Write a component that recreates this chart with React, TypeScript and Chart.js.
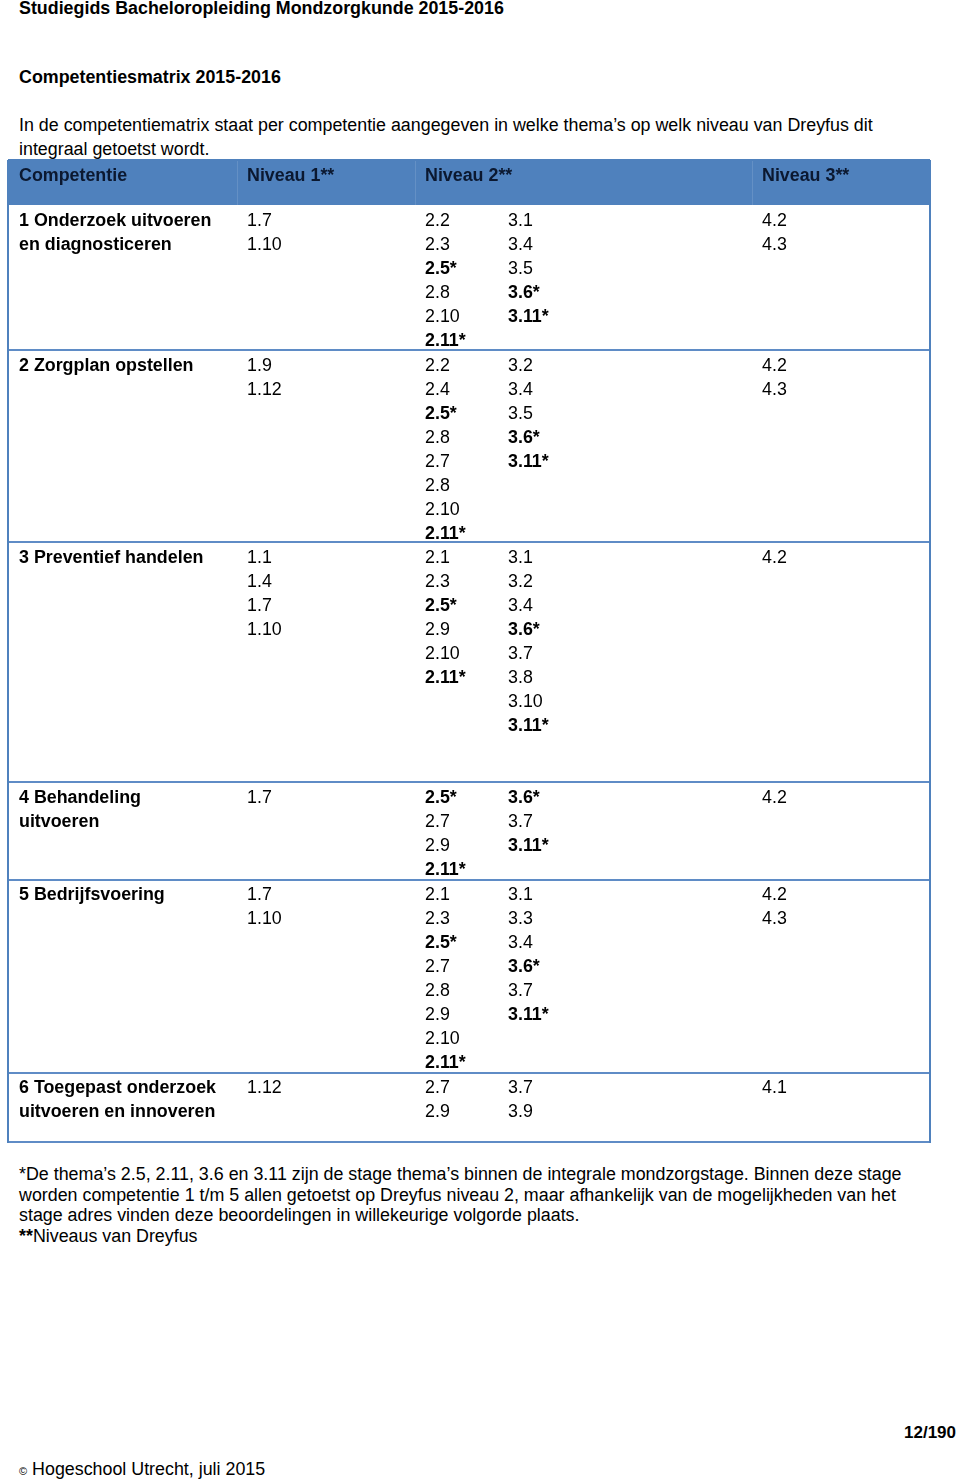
import React, { useEffect, useRef } from "react";
import { Chart, registerables } from "chart.js";

Chart.register(...registerables);

// ---------- DATA ----------
const headers = ["Competentie", "Niveau 1**", "Niveau 2**", "Niveau 3**"];

const competencies = [
  ["1 Onderzoek uitvoeren", "en diagnosticeren"],
  ["2 Zorgplan opstellen"],
  ["3 Preventief handelen"],
  ["4 Behandeling", "uitvoeren"],
  ["5 Bedrijfsvoering"],
  ["6 Toegepast onderzoek", "uitvoeren en innoveren"],
];

const niveau1 = [
  ["1.7", "1.10"],
  ["1.9", "1.12"],
  ["1.1", "1.4", "1.7", "1.10"],
  ["1.7"],
  ["1.7", "1.10"],
  ["1.12"],
];

const niveau2Themes2 = [
  ["2.2", "2.3", "2.5*", "2.8", "2.10", "2.11*"],
  ["2.2", "2.4", "2.5*", "2.8", "2.7", "2.8", "2.10", "2.11*"],
  ["2.1", "2.3", "2.5*", "2.9", "2.10", "2.11*"],
  ["2.5*", "2.7", "2.9", "2.11*"],
  ["2.1", "2.3", "2.5*", "2.7", "2.8", "2.9", "2.10", "2.11*"],
  ["2.7", "2.9"],
];

const niveau2Themes3 = [
  ["3.1", "3.4", "3.5", "3.6*", "3.11*"],
  ["3.2", "3.4", "3.5", "3.6*", "3.11*"],
  ["3.1", "3.2", "3.4", "3.6*", "3.7", "3.8", "3.10", "3.11*"],
  ["3.6*", "3.7", "3.11*"],
  ["3.1", "3.3", "3.4", "3.6*", "3.7", "3.11*"],
  ["3.7", "3.9"],
];

const niveau3 = [
  ["4.2", "4.3"],
  ["4.2", "4.3"],
  ["4.2"],
  ["4.2"],
  ["4.2", "4.3"],
  ["4.1"],
];

// row heights, in text lines
const rowLineSlots = [6.04, 8, 10, 4.08, 8.04, 2.88];

// ---------- LAYOUT / STYLE ----------
const FONT = '"Liberation Sans", Arial, Helvetica, sans-serif';
const FS = 17.85;
const BLUE = "#4f81bd";
const LINE_BLUE = "#5f8cc6";
const HEADER_TEXT = "#0b1830";

const CANVAS_TOP = 150;
const CANVAS_H = 1000;
const PAGE_W = 960;
const LINE_PX = 24;
const BODY_TOP = 205;
const HEADER_TOP = 160;
const HEADER_TEXT_Y = 175;
const TABLE_LEFT = 8;
const TABLE_RIGHT = 930;
const COL_X = [19, 247, 425, 508, 762];
const HEADER_X = [19, 247, 425, 762];
const FIRST_LINE_OFFSET = [0.625, 0.625, 0.625, 0.625, 0.583, 0.583];

const Y_MIN = -(BODY_TOP - CANVAS_TOP) / LINE_PX;
const Y_MAX = Y_MIN + CANVAS_H / LINE_PX;

function rowStarts(): number[] {
  const starts: number[] = [];
  let acc = 0;
  for (const s of rowLineSlots) {
    starts.push(acc);
    acc += s;
  }
  starts.push(acc);
  return starts;
}

function buildColumn(colData: string[][], c: number, boldAll: boolean) {
  const starts = rowStarts();
  const pts: any[] = [];
  colData.forEach((lines, r) => {
    lines.forEach((t, i) => {
      pts.push({
        x: COL_X[c],
        y: starts[r] + FIRST_LINE_OFFSET[r] + i,
        t,
        b: boldAll || t.includes("*"),
      });
    });
  });
  return pts;
}

const tablePlugin = {
  id: "tableDraw",
  beforeDatasetsDraw(chart: any) {
    const { ctx, scales } = chart;
    const xs = scales.x;
    const ys = scales.y;
    const l = xs.getPixelForValue(TABLE_LEFT);
    const r = xs.getPixelForValue(TABLE_RIGHT);
    const hTop = ys.getPixelForValue(-(BODY_TOP - HEADER_TOP) / LINE_PX);
    const bTop = ys.getPixelForValue(0);
    const starts = rowStarts();
    const bottom = ys.getPixelForValue(starts[starts.length - 1]);
    ctx.save();
    ctx.fillStyle = BLUE;
    ctx.fillRect(l, hTop, r - l, bTop - hTop);
    ctx.strokeStyle = "rgba(255,255,255,0.12)";
    ctx.lineWidth = 1;
    [237, 415, 752].forEach((vx) => {
      const px = Math.round(xs.getPixelForValue(vx)) + 0.5;
      ctx.beginPath();
      ctx.moveTo(px, hTop);
      ctx.lineTo(px, bTop);
      ctx.stroke();
    });
    ctx.strokeStyle = LINE_BLUE;
    ctx.lineWidth = 2;
    starts.forEach((s, i) => {
      if (i === 0) return;
      const py = Math.round(ys.getPixelForValue(s));
      ctx.beginPath();
      ctx.moveTo(l, py);
      ctx.lineTo(r, py);
      ctx.stroke();
    });
    ctx.strokeStyle = BLUE;
    ctx.beginPath();
    ctx.moveTo(l, hTop);
    ctx.lineTo(r, hTop);
    ctx.moveTo(l, hTop);
    ctx.lineTo(l, bottom + 1);
    ctx.moveTo(r, hTop);
    ctx.lineTo(r, bottom + 1);
    ctx.stroke();
    ctx.restore();
  },
  afterDatasetsDraw(chart: any) {
    const { ctx } = chart;
    ctx.save();
    ctx.textAlign = "left";
    ctx.textBaseline = "middle";
    chart.data.datasets.forEach((ds: any, di: number) => {
      const meta = chart.getDatasetMeta(di);
      meta.data.forEach((el: any, i: number) => {
        const raw = ds.data[i];
        ctx.fillStyle = ds.isHeader ? HEADER_TEXT : "#000";
        ctx.font = `${raw.b ? "bold " : ""}${FS}px ${FONT}`;
        ctx.fillText(raw.t, el.x, el.y + 1);
      });
    });
    ctx.restore();
  },
};

function TableChart() {
  const ref = useRef<HTMLCanvasElement | null>(null);
  useEffect(() => {
    if (!ref.current) return;
    const headerY = -(BODY_TOP - HEADER_TEXT_Y) / LINE_PX;
    const datasets: any[] = [
      {
        label: "header",
        isHeader: true,
        data: headers.map((h, i) => ({ x: HEADER_X[i], y: headerY, t: h, b: true })),
      },
      { label: "Competentie", data: buildColumn(competencies, 0, true) },
      { label: "Niveau 1", data: buildColumn(niveau1, 1, false) },
      { label: "Niveau 2 (2.x)", data: buildColumn(niveau2Themes2, 2, false) },
      { label: "Niveau 2 (3.x)", data: buildColumn(niveau2Themes3, 3, false) },
      { label: "Niveau 3", data: buildColumn(niveau3, 4, false) },
    ].map((d) => ({ ...d, pointRadius: 0, pointHoverRadius: 0, showLine: false }));

    const chart = new Chart(ref.current, {
      type: "scatter",
      data: { datasets },
      options: {
        animation: false,
        responsive: false,
        events: [],
        layout: { padding: 0 },
        plugins: { legend: { display: false }, tooltip: { enabled: false } },
        scales: {
          x: { type: "linear", min: 0, max: PAGE_W, display: false },
          y: { type: "linear", min: Y_MIN, max: Y_MAX, reverse: true, display: false },
        },
      },
      plugins: [tablePlugin],
    } as any);
    return () => chart.destroy();
  }, []);
  return (
    <canvas
      ref={ref}
      width={PAGE_W}
      height={CANVAS_H}
      style={{ position: "absolute", left: 0, top: CANVAS_TOP, width: PAGE_W, height: CANVAS_H }}
    />
  );
}

const abs = (top: number, left: number, extra: any = {}) => ({
  position: "absolute" as const,
  top,
  left,
  whiteSpace: "nowrap" as const,
  ...extra,
});

export default function App() {
  return (
    <div
      style={{
        position: "absolute",
        left: 0,
        top: 0,
        width: 960,
        height: 1481,
        background: "#fff",
        color: "#000",
        fontFamily: FONT,
        fontSize: FS,
        overflow: "hidden",
      }}
    >
      <div style={abs(-2, 19, { fontWeight: "bold", lineHeight: "20px" })}>
        Studiegids Bacheloropleiding Mondzorgkunde 2015-2016
      </div>
      <div style={abs(67, 19, { fontWeight: "bold", lineHeight: "20px" })}>
        Competentiesmatrix 2015-2016
      </div>
      <div style={abs(113, 19, { lineHeight: "24px" })}>
        In de competentiematrix staat per competentie aangegeven in welke thema’s op welk niveau van Dreyfus dit
        <br />
        integraal getoetst wordt.
      </div>
      <TableChart />
      <div style={abs(1164, 19, { lineHeight: "20.5px" })}>
        *De thema’s 2.5, 2.11, 3.6 en 3.11 zijn de stage thema’s binnen de integrale mondzorgstage. Binnen deze stage
        <br />
        worden competentie 1 t/m 5 allen getoetst op Dreyfus niveau 2, maar afhankelijk van de mogelijkheden van het
        <br />
        stage adres vinden deze beoordelingen in willekeurige volgorde plaats.
        <br />
        <b>**</b>Niveaus van Dreyfus
      </div>
      <div style={abs(1423, 904, { fontWeight: "bold", lineHeight: "20px", fontSize: 17 })}>12/190</div>
      <div style={abs(1459, 19, { lineHeight: "20px" })}>
        <span style={{ fontSize: 11 }}>©</span> Hogeschool Utrecht, juli 2015
      </div>
    </div>
  );
}
